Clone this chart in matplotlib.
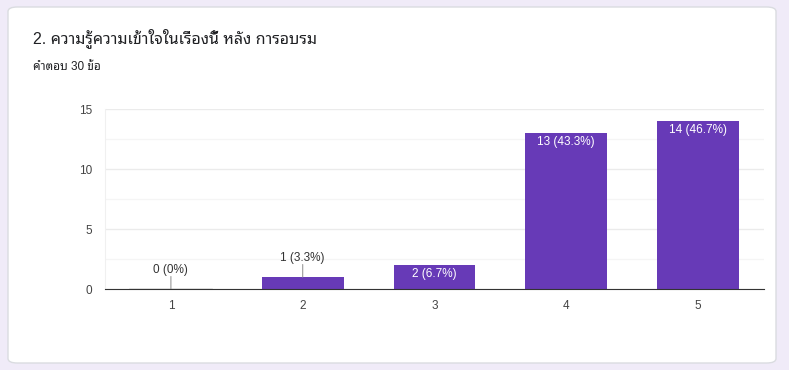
import matplotlib
matplotlib.use("Agg")
import matplotlib.pyplot as plt
from matplotlib.patches import FancyBboxPatch

plt.rcParams['font.family'] = ['Liberation Sans', 'Noto Sans Thai Looped', 'DejaVu Sans']

# data
categories = ["1", "2", "3", "4", "5"]
counts = [0, 1, 2, 13, 14]
total = 30
title = "2. ความรู้ความเข้าใจในเรื่องนี้ หลัง การอบรม"
subtitle = "คำตอบ 30 ข้อ"

W, H = 789, 370
fig = plt.figure(figsize=(W / 100, H / 100), dpi=100)
fig.patch.set_facecolor("#f0ebf8")

# white card
card = FancyBboxPatch((8 / W, 1 - 363 / H), 768 / W, 356 / H,
                      boxstyle="round,pad=0,rounding_size=0.012",
                      transform=fig.transFigure, facecolor="white",
                      edgecolor="#dadce0", linewidth=1, zorder=-1)
fig.patches.append(card)

fig.text(33 / W, 1 - 38 / H, title, fontsize=11.5, color="#202124", va="center", ha="left")
fig.text(33 / W, 1 - 67 / H, subtitle, fontsize=8.5, color="#202124", va="center", ha="left")

ax = fig.add_axes([105 / W, 1 - 289 / H, 659 / W, 180 / H])
ax.set_facecolor("none")
x = list(range(len(categories)))
bars = ax.bar(x, counts, width=0.62, color="#673ab7", zorder=3)
ax.set_xlim(-0.5, len(categories) - 0.5)
ax.set_ylim(0, 15)
ax.set_yticks([0, 5, 10, 15])
ax.set_yticks([2.5, 7.5, 12.5], minor=True)
ax.set_xticks(x)
ax.set_xticklabels(categories)
ax.grid(axis="y", which="major", color="#ebebeb", linewidth=1, zorder=0)
ax.grid(axis="y", which="minor", color="#f5f5f5", linewidth=1, zorder=0)
for s in ["top", "right"]:
    ax.spines[s].set_visible(False)
ax.spines["left"].set_color("#f0f0f0")
ax.spines["bottom"].set_color("#333333")
ax.spines["bottom"].set_zorder(4)
ax.tick_params(axis="both", which="both", length=0, labelsize=8.5, colors="#444444")
ax.tick_params(axis="y", pad=9)
ax.tick_params(axis="x", pad=8)

for xi, c in zip(x, counts):
    pct = c / total * 100
    label = "%d (%s%%)" % (c, ("%.1f" % pct).rstrip("0").rstrip("."))
    if c == 0:
        ax.plot([xi - 0.31, xi + 0.31], [0, 0], color="#e0e0e0", lw=1.2, zorder=3)
    if c <= 1:
        ax.annotate("", xy=(xi, c), xytext=(0, 9), textcoords="offset points",
                    arrowprops=dict(arrowstyle="-", color="#999999", lw=0.8,
                                    shrinkA=0, shrinkB=0))
        ax.annotate(label, xy=(xi, c), xytext=(0, 13.5), textcoords="offset points",
                    ha="center", va="center", fontsize=8.5, color="#333333")
    else:
        ax.annotate(label, xy=(xi, c), xytext=(0, -6.5), textcoords="offset points",
                    ha="center", va="center", fontsize=8.5, color="white")

fig.savefig("out.png", dpi=100, facecolor=fig.get_facecolor())
